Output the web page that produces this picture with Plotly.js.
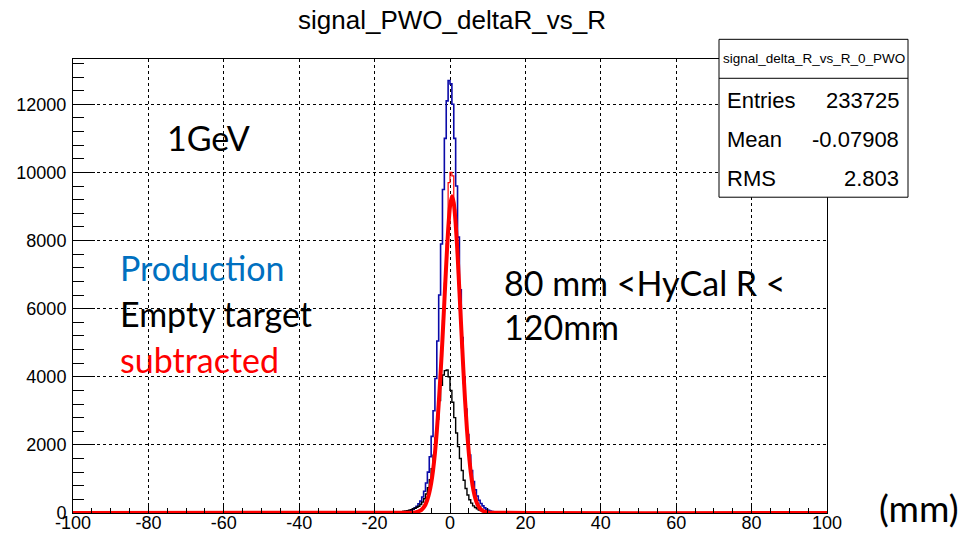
<!DOCTYPE html>
<html>
<head>
<meta charset="utf-8">
<script src="https://cdn.plot.ly/plotly-3.0.1.min.js"></script>
<style>html,body{margin:0;padding:0;background:#fff;}#chart{width:973px;height:534px;}</style>
</head>
<body>
<div id="chart"></div>
<script>
// ---- data ----
const binStart = -15;      // left edge of first listed bin (mm)
const binWidth = 0.5;      // mm
// Production (blue histogram), bins from -15 to +15 mm
const productionCounts = [5,8,10,15,20,28,35,45,60,80,110,150,200,270,350,470,640,880,1200,1650,2250,3000,3950,5050,6400,7900,9500,11000,12100,12700,12600,12000,11000,9600,8100,6550,5150,4000,3050,2300,1700,1250,920,680,500,370,280,210,150,110,80,60,45,35,25,18,12,9,6,4];
// Empty target (black histogram)
const emptyCounts = [10,15,20,30,40,50,60,70,85,100,120,140,170,200,250,320,420,560,740,980,1300,1700,2200,2750,3300,3750,4050,4180,4200,4000,3600,3250,2800,2350,1950,1600,1250,960,720,530,390,290,210,160,120,90,70,50,40,30,22,16,12,8,6,4,3,2,1,1];
// Subtracted (thin red histogram)
const subtractedCounts = [0,0,0,0,1,2,3,5,7,10,12,20,32,52,80,130,200,320,480,720,1050,1500,2050,2800,3650,4600,5650,6750,7900,9700,10000,9900,8900,8050,7050,5950,4850,3800,2850,2080,1450,1000,650,420,270,170,105,65,40,24,14,9,6,4,3,2,1,1,0,0];
// Subtracted, smooth curve (thick red)
const smoothX = [-100,-10,-9.5,-9,-8.5,-8,-7.5,-7,-6.5,-6,-5.5,-5,-4.5,-4,-3.5,-3,-2.5,-2,-1.5,-1,-0.5,0,0.5,1,1.5,2,2.5,3,3.5,4,4.5,5,5.5,6,6.5,7,7.5,8,8.5,9,9.5,10,100];
const smoothY = [0,10,15,25,40,65,100,160,250,390,590,870,1250,1750,2400,3200,4100,5100,6200,7300,8300,9000,9300,9100,8500,7600,6500,5400,4300,3300,2450,1750,1200,800,520,330,210,130,80,50,30,18,0];

const xTickVals = [-100,-80,-60,-40,-20,0,20,40,60,80,100];
const xTickText = ['-100','-80','-60','-40','-20','0','20','40','60','80','100'];
const yTickVals = [0,2000,4000,6000,8000,10000,12000];
const yTickText = ['0','2000','4000','6000','8000','10000','12000'];
const statsLabels = ['Entries','Mean','RMS'];
const statsValues = ['233725','-0.07908','2.803'];
const legendLabels = ['Production','Empty target','subtracted'];

// ---- build step traces (ROOT-style histogram outline) ----
function stepXY(counts){
  const xs=[-100], ys=[0];
  for(let i=0;i<counts.length;i++){ xs.push(binStart+i*binWidth); ys.push(counts[i]); }
  xs.push(binStart+counts.length*binWidth); ys.push(0);
  xs.push(100); ys.push(0);
  return {xs, ys};
}
const P = stepXY(productionCounts), E = stepXY(emptyCounts), S = stepXY(subtractedCounts);

const traces = [
  {x:P.xs, y:P.ys, mode:'lines', line:{shape:'hv', color:'#0a0aa8', width:1.6}, hoverinfo:'skip'},
  {x:E.xs, y:E.ys, mode:'lines', line:{shape:'hv', color:'#000000', width:1.4}, hoverinfo:'skip'},
  {x:smoothX, y:smoothY, mode:'lines', line:{shape:'spline', smoothing:0.7, color:'#ff0000', width:4}, hoverinfo:'skip'},
  {x:S.xs, y:S.ys, mode:'lines', line:{shape:'hv', color:'#ff0000', width:1.2}, hoverinfo:'skip'}
];

// ---- geometry helpers for paper coords ----
const L=73, R=827, T=58.7, B=513;
const px = v => (v-L)/(R-L);
const py = v => (B-v)/(B-T);

const txtFont = 'Lato, "Open Sans", sans-serif';
const annotations = [
  {text:'1GeV', x:px(165), y:py(137), font:{size:34,color:'#000'}},
  {text:legendLabels[0], x:px(118), y:py(267), font:{size:34,color:'#0070c0'}},
  {text:legendLabels[1], x:px(118), y:py(313), font:{size:34,color:'#000'}},
  {text:legendLabels[2], x:px(118), y:py(359), font:{size:34,color:'#ff0000'}},
  {text:'80 mm &lt;HyCal R &lt;', x:px(502), y:py(282), font:{size:34,color:'#000'}},
  {text:'120mm', x:px(502), y:py(326), font:{size:34,color:'#000'}},
  {text:'(mm)', x:px(877), y:py(507), font:{size:37,color:'#000'}}
].map(a=>Object.assign({xref:'paper',yref:'paper',xanchor:'left',yanchor:'middle',showarrow:false},a,{font:Object.assign({family:txtFont},a.font)}));

// stats box text
const statY = [100,139.3,178.3];
const statFont = {family:'"Liberation Sans", Arial, sans-serif', size:22, color:'#000'};
annotations.push({text:'signal_delta_R_vs_R_0_PWO', xref:'paper', yref:'paper', x:px(813.5), y:py(58.5), xanchor:'center', yanchor:'middle', showarrow:false, font:{family:'"Liberation Sans", Arial, sans-serif', size:13.5, color:'#000'}});
statsLabels.forEach((lab,i)=>{
  annotations.push({text:lab, xref:'paper', yref:'paper', x:px(725), y:py(statY[i]), xanchor:'left', yanchor:'middle', showarrow:false, font:statFont});
  annotations.push({text:statsValues[i], xref:'paper', yref:'paper', x:px(901), y:py(statY[i]), xanchor:'right', yanchor:'middle', showarrow:false, font:statFont});
});

const shapes = [
  {type:'rect', xref:'paper', yref:'paper', x0:px(719), x1:px(908), y0:py(197), y1:py(39), fillcolor:'#ffffff', line:{color:'#000', width:1}, layer:'above'},
  {type:'line', xref:'paper', yref:'paper', x0:px(719), x1:px(908), y0:py(78), y1:py(78), line:{color:'#000', width:1}, layer:'above'}
];

const axisFont = {family:'"Liberation Sans", Arial, sans-serif', size:18, color:'#000'};
const layout = {
  width:973, height:534,
  margin:{l:L, r:973-R, t:T, b:534-B, pad:0},
  paper_bgcolor:'#fff', plot_bgcolor:'#fff',
  showlegend:false,
  title:{text:'signal_PWO_deltaR_vs_R', x:452/973, xanchor:'center', y:1-20/534, yanchor:'middle', font:{family:'"Liberation Sans", Arial, sans-serif', size:26, color:'#000'}},
  xaxis:{range:[-100,100], tickvals:xTickVals, ticktext:xTickText, ticks:'inside', ticklen:9, tickcolor:'#000', tickwidth:1,
    minor:{dtick:5, ticks:'inside', ticklen:5, tickcolor:'#000', showgrid:false},
    showgrid:true, gridcolor:'#000', griddash:'dot', gridwidth:1, zeroline:false,
    showline:true, linecolor:'#000', linewidth:1, mirror:true, tickfont:axisFont, ticklabelstandoff:-7},
  yaxis:{range:[0,13330], tickvals:yTickVals, ticktext:yTickText, ticks:'inside', ticklen:22, tickcolor:'#000', tickwidth:1,
    minor:{dtick:400, ticks:'inside', ticklen:11, tickcolor:'#000', showgrid:false},
    showgrid:true, gridcolor:'#000', griddash:'dot', gridwidth:1, zeroline:false,
    showline:true, linecolor:'#000', linewidth:1, mirror:true, tickfont:axisFont, ticklabelstandoff:2},
  annotations, shapes
};
Plotly.newPlot('chart', traces, layout, {staticPlot:true, displayModeBar:false});
</script>
</body>
</html>
